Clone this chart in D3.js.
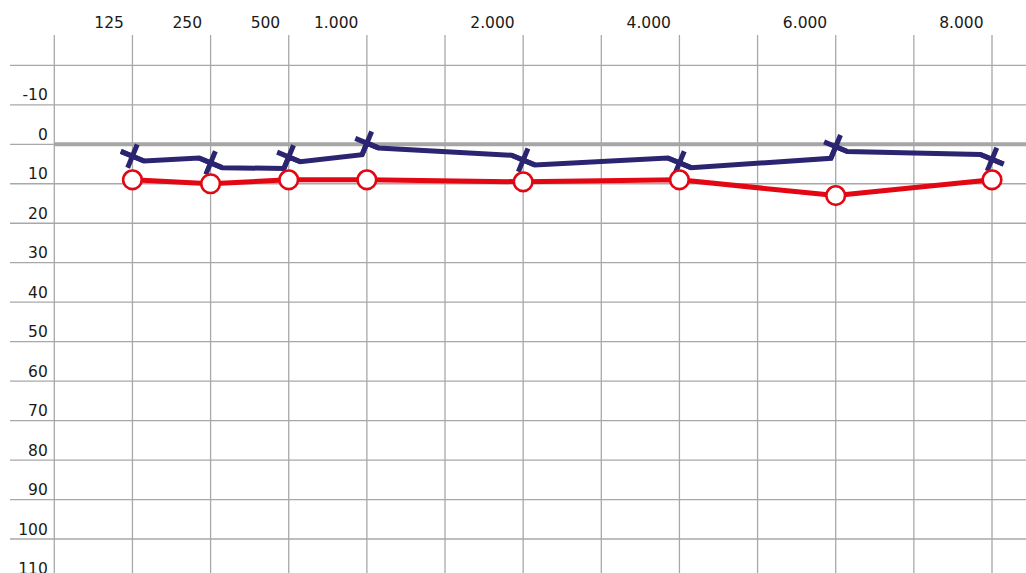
<!DOCTYPE html>
<html>
<head>
<meta charset="utf-8">
<script src="https://cdn.jsdelivr.net/npm/d3@7"></script>
<style>
  html, body { margin: 0; padding: 0; background: #ffffff; }
  svg { display: block; }
  text { font-family: "DejaVu Sans", Verdana, sans-serif; font-size: 15px; fill: #1a1a1a; }
</style>
</head>
<body>
<div id="chart"></div>
<script>
// ---- data ----
const columns = ["0", "125", "250", "500", "1000", "1500", "2000", "3000", "4000", "5000", "6000", "7000", "8000"];
const tickFreqs = ["125", "250", "500", "1000", "2000", "4000", "6000", "8000"];
const tickLabels = ["125", "250", "500", "1.000", "2.000", "4.000", "6.000", "8.000"];
const yTicks = [-10, 0, 10, 20, 30, 40, 50, 60, 70, 80, 90, 100, 110];
const yGrid = [-20, -10, 0, 10, 20, 30, 40, 50, 60, 70, 80, 90, 100, 110];
const freqs = ["125", "250", "500", "1000", "2000", "4000", "6000", "8000"];
const rightEar = [9, 10, 9, 9, 9.5, 9, 13, 9];      // red circles
const leftEar  = [3, 4.7, 3.2, -0.3, 4, 4.7, 0.6, 3.8]; // blue crosses

// ---- layout ----
const W = 1026, H = 573;
const svg = d3.select("#chart").append("svg").attr("width", W).attr("height", H);

const x = d3.scalePoint().domain(columns).range([54.3, 992]);
const y = d3.scaleLinear().domain([0, 100]).range([144.3, 539]);

const gridColor = "#a8a8a8";
const red = "#e30613";
const blue = "#2b2470";
const fontFamily = '"DejaVu Sans", Verdana, sans-serif';

// vertical grid
svg.append("g").selectAll("line").data(columns).join("line")
  .attr("x1", d => x(d)).attr("x2", d => x(d))
  .attr("y1", 35).attr("y2", H)
  .attr("stroke", gridColor).attr("stroke-width", 1.3);

// horizontal grid
svg.append("g").selectAll("line").data(yGrid).join("line")
  .attr("x1", 10).attr("x2", W)
  .attr("y1", d => y(d)).attr("y2", d => y(d))
  .attr("stroke", gridColor).attr("stroke-width", 1.3);

// thick zero line
svg.append("line")
  .attr("x1", x(columns[0])).attr("x2", W)
  .attr("y1", y(0)).attr("y2", y(0))
  .attr("stroke", "#a6a6a6").attr("stroke-width", 4);

// x axis labels (top)
const xLabel = d3.scaleOrdinal().domain(tickFreqs).range(tickLabels);
const gx = svg.append("g").attr("transform", "translate(0,28)")
  .call(d3.axisTop(x).tickValues(tickFreqs).tickFormat(d => xLabel(d)).tickSize(0));
gx.select(".domain").remove();
gx.selectAll("text")
  .attr("text-anchor", "end").attr("x", -9).attr("y", 0).attr("dy", 0)
  .attr("fill", "#1a1a1a")
  .style("font-family", fontFamily).style("font-size", "15.5px");

// y axis labels (left)
const gy = svg.append("g").attr("transform", "translate(54.3,0)")
  .call(d3.axisLeft(y).tickValues(yTicks).tickFormat(d => String(d)).tickSize(0));
gy.select(".domain").remove();
gy.selectAll("text")
  .attr("text-anchor", "end").attr("x", -6.5).attr("dy", -5)
  .attr("fill", "#1a1a1a")
  .style("font-family", fontFamily).style("font-size", "15.5px");

// ---- left ear (blue crosses with connecting line) ----
const A = [11.6, 4.8];   // shallow arm half-vector
const B = [-4.8, 11.6];  // steep arm half-vector
const bluePts = [];
leftEar.forEach((v, i) => {
  const c = [x(freqs[i]), y(v)];
  if (i === 0 || v > leftEar[i - 1]) {
    bluePts.push([c[0] - A[0], c[1] - A[1]], [c[0] + A[0], c[1] + A[1]]);
  } else {
    bluePts.push([c[0] + B[0], c[1] + B[1]], c, [c[0] + A[0], c[1] + A[1]]);
  }
});
svg.append("path")
  .attr("d", d3.line()(bluePts))
  .attr("fill", "none").attr("stroke", blue).attr("stroke-width", 5)
  .attr("stroke-linejoin", "miter").attr("stroke-miterlimit", 3);
svg.append("g").selectAll("line").data(leftEar).join("line")
  .attr("x1", (v, i) => x(freqs[i]) - B[0]).attr("y1", v => y(v) - B[1])
  .attr("x2", (v, i) => x(freqs[i]) + B[0]).attr("y2", v => y(v) + B[1])
  .attr("stroke", blue).attr("stroke-width", 5);
svg.append("g").selectAll("line").data(leftEar).join("line")
  .attr("x1", (v, i) => x(freqs[i]) - A[0]).attr("y1", v => y(v) - A[1])
  .attr("x2", (v, i) => x(freqs[i]) + A[0]).attr("y2", v => y(v) + A[1])
  .attr("stroke", blue).attr("stroke-width", 5);

// ---- right ear (red circles with line) ----
svg.append("path")
  .datum(rightEar)
  .attr("d", d3.line().x((v, i) => x(freqs[i])).y(v => y(v)))
  .attr("fill", "none").attr("stroke", red).attr("stroke-width", 5)
  .attr("stroke-linejoin", "round");
svg.append("g").selectAll("circle").data(rightEar).join("circle")
  .attr("cx", (v, i) => x(freqs[i])).attr("cy", v => y(v))
  .attr("r", 9.3)
  .attr("fill", "#ffffff").attr("stroke", red).attr("stroke-width", 2.6);
</script>
</body>
</html>
